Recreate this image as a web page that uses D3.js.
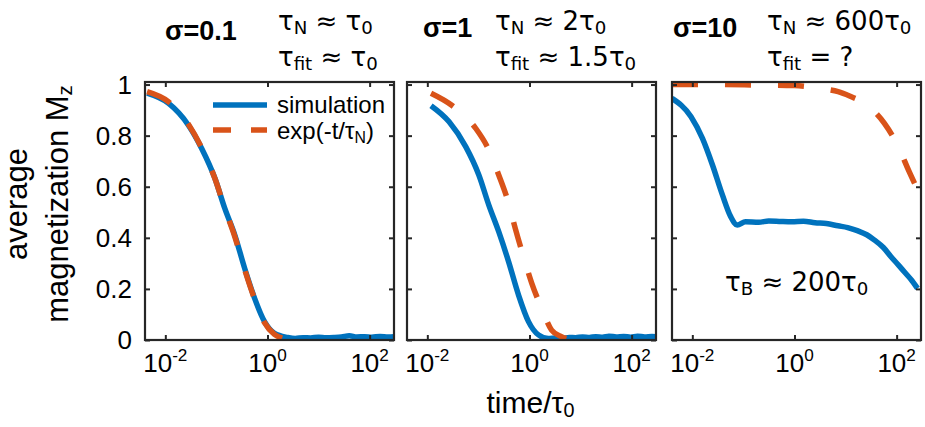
<!DOCTYPE html>
<html>
<head>
<meta charset="utf-8">
<script src="https://cdn.jsdelivr.net/npm/d3@7"></script>
<style>
  body { margin: 0; background: #fff; }
  text { font-family: "Liberation Sans", Arial, sans-serif; fill: #000; }
  text.note { font-family: "DejaVu Sans", sans-serif; }
</style>
</head>
<body>
<div id="chart"></div>
<script>
// ---- data (time in units of tau0, average Mz) ----
const xTickExp = [-2, 0, 2];
const yTicks = [0, 0.2, 0.4, 0.6, 0.8, 1];
const yTickLabels = ["0", "0.2", "0.4", "0.6", "0.8", "1"];

// sigma = 0.1
const sim1T = [0.0044, 0.0116, 0.0283, 0.0515, 0.0935, 0.146, 0.229, 0.357, 0.56, 0.875, 1.37, 2.48,
  3.5, 5, 7, 10, 14, 20, 28, 40, 56, 80, 110, 160, 230, 300];
const sim1M = [0.966, 0.926, 0.841, 0.75, 0.633, 0.515, 0.411, 0.281, 0.163, 0.072, 0.026, 0.01,
  0.006, 0.009, 0.008, 0.011, 0.009, 0.01, 0.012, 0.017, 0.012, 0.013, 0.011, 0.014, 0.012, 0.013];
const fit1T = [0.0044, 0.0116, 0.0283, 0.0515, 0.0935, 0.146, 0.229, 0.357, 0.56, 0.875, 1.37, 2.0, 2.67];
const fit1M = [0.972, 0.932, 0.845, 0.752, 0.632, 0.515, 0.405, 0.276, 0.16, 0.068, 0.022, 0.006, 0.0];

// sigma = 1
const sim2T = [0.0118, 0.0267, 0.0564, 0.102, 0.16, 0.25, 0.391, 0.611, 0.957, 1.5, 2.34,
  3.3, 4.5, 6, 8, 11, 15, 20, 27, 36, 50, 70, 95, 130, 180, 250, 300];
const sim2M = [0.917, 0.854, 0.757, 0.646, 0.528, 0.424, 0.306, 0.176, 0.072, 0.02, 0.006,
  0.008, 0.006, 0.01, 0.009, 0.012, 0.01, 0.013, 0.011, 0.015, 0.012, 0.014, 0.011, 0.015, 0.012, 0.014, 0.013];
const fit2T = [0.0118, 0.031, 0.0883, 0.16, 0.25, 0.391, 0.527, 0.764, 1.11, 1.73, 2.71, 4.24, 7.14];
const fit2M = [0.966, 0.917, 0.829, 0.744, 0.646, 0.535, 0.437, 0.326, 0.222, 0.124, 0.039, 0.013, 0.0];

// sigma = 10
const sim3T = [0.004, 0.00944, 0.0158, 0.0248, 0.0388, 0.0564, 0.0759, 0.11, 0.2, 0.313, 0.55, 0.887,
  1.5, 2.52, 4.2, 7.14, 11, 17.5, 26, 36.9, 55, 77.6, 110, 141, 200, 256];
const sim3M = [0.946, 0.874, 0.789, 0.685, 0.568, 0.483, 0.45, 0.463, 0.461, 0.466, 0.464, 0.463,
  0.465, 0.459, 0.456, 0.447, 0.44, 0.427, 0.412, 0.391, 0.362, 0.326, 0.292, 0.267, 0.232, 0.202];
const fit3T = [0.004, 0.03, 0.2, 1.0, 2.0, 4.0, 7.14, 12, 23.6, 57.7, 104, 176, 300];
const fit3M = [1.0, 1.0, 0.998, 0.996, 0.991, 0.982, 0.972, 0.955, 0.926, 0.848, 0.763, 0.659, 0.56];

const blue = "#0072BD", orange = "#D95319", frame = "#262626";

const panels = [
  { left: 145, sim: [sim1T, sim1M], fit: [fit1T, fit1M],
    title: "σ=0.1", tx: 165, ty: 40, ax: 278,
    line1: [["τ"], ["N", "sub"], [" ≈ τ"], ["0", "sub"]],
    line2: [["τ"], ["fit", "sub"], [" ≈ τ"], ["0", "sub"]] },
  { left: 407, sim: [sim2T, sim2M], fit: [fit2T, fit2M],
    title: "σ=1", tx: 423, ty: 37, ax: 495,
    line1: [["τ"], ["N", "sub"], [" ≈ 2τ"], ["0", "sub"]],
    line2: [["τ"], ["fit", "sub"], [" ≈ 1.5τ"], ["0", "sub"]] },
  { left: 672, sim: [sim3T, sim3M], fit: [fit3T, fit3M],
    title: "σ=10", tx: 673, ty: 37, ax: 767,
    line1: [["τ"], ["N", "sub"], [" ≈ 600τ"], ["0", "sub"]],
    line2: [["τ"], ["fit", "sub"], [" = ?"]] }
];

const W = 925, H = 427;
const pw = 249, plotTop = 82, plotBottom = 340;

const svg = d3.select("#chart").append("svg")
  .attr("width", W).attr("height", H);

// text with sub/superscripts
function richText(sel, parts, size, ratio = 0.66) {
  parts.forEach(p => {
    const kind = p[1] || "n";
    const t = sel.append("tspan").text(p[0]);
    if (kind === "sub") t.attr("dy", 4).attr("font-size", size * ratio);
    else if (kind === "sup") t.attr("dy", -11).attr("font-size", size * ratio);
    else t.attr("dy", sel.attr("data-dy") || 0).attr("font-size", size);
    sel.attr("data-dy", kind === "sub" ? -4 : kind === "sup" ? 11 : 0);
  });
}

const y = d3.scaleLinear().domain([0, 1.01]).range([plotBottom, plotTop]);

panels.forEach((p, i) => {
  const x = d3.scaleLog().domain([0.004, 300]).range([p.left, p.left + pw]);
  const g = svg.append("g");

  g.append("clipPath").attr("id", "clip" + i)
    .append("rect").attr("x", p.left).attr("y", plotTop)
    .attr("width", pw).attr("height", plotBottom - plotTop);

  const line = d3.line().x(d => x(d[0])).y(d => y(d[1])).curve(d3.curveMonotoneX);
  const simData = p.sim[0].map((t, k) => [t, p.sim[1][k]]);
  const fitData = p.fit[0].map((t, k) => [t, p.fit[1][k]]);

  g.append("path").datum(simData)
    .attr("clip-path", `url(#clip${i})`)
    .attr("d", line).attr("fill", "none")
    .attr("stroke", blue).attr("stroke-width", 5.5)
    .attr("stroke-linejoin", "round");

  g.append("path").datum(fitData)
    .attr("clip-path", `url(#clip${i})`)
    .attr("d", line).attr("fill", "none")
    .attr("stroke", orange).attr("stroke-width", 5.5)
    .attr("stroke-dasharray", "26,27");

  // ticks, inside on all sides
  const xAxisB = d3.axisBottom(x).tickValues(xTickExp.map(e => Math.pow(10, e)))
    .tickSizeInner(-5).tickSizeOuter(0).tickFormat("");
  const xAxisT = d3.axisTop(x).tickValues(xTickExp.map(e => Math.pow(10, e)))
    .tickSizeInner(-5).tickSizeOuter(0).tickFormat("");
  const yAxisL = d3.axisLeft(y).tickValues(yTicks).tickSizeInner(-5).tickSizeOuter(0).tickFormat("");
  const yAxisR = d3.axisRight(y).tickValues(yTicks).tickSizeInner(-5).tickSizeOuter(0).tickFormat("");

  [[xAxisB, `translate(0,${plotBottom})`], [xAxisT, `translate(0,${plotTop})`],
   [yAxisL, `translate(${p.left},0)`], [yAxisR, `translate(${p.left + pw},0)`]].forEach(a => {
    const ax = g.append("g").attr("transform", a[1]).call(a[0]);
    ax.select(".domain").remove();
    ax.selectAll("line").attr("stroke", frame).attr("stroke-width", 2);
  });

  g.append("rect").attr("x", p.left).attr("y", plotTop)
    .attr("width", pw).attr("height", plotBottom - plotTop)
    .attr("fill", "none").attr("stroke", frame).attr("stroke-width", 2.2);

  // x tick labels 10^n
  xTickExp.forEach(e => {
    const t = g.append("text").attr("x", x(Math.pow(10, e))).attr("y", 372)
      .attr("text-anchor", "middle");
    richText(t, [["10"], [String(e), "sup"]], 26);
  });

  // titles
  g.append("text").attr("x", p.tx).attr("y", p.ty)
    .attr("font-weight", "bold").attr("font-size", 27).text(p.title);
  richText(g.append("text").attr("class", "note").attr("x", p.ax).attr("y", 30), p.line1, 26, 0.7);
  richText(g.append("text").attr("class", "note").attr("x", p.ax).attr("y", 66), p.line2, 26, 0.7);

  if (i === 0) {
    yTicks.forEach((v, k) => {
      g.append("text").attr("x", 132).attr("y", y(v) + 9)
        .attr("text-anchor", "end").attr("font-size", 26).text(yTickLabels[k]);
    });
    // legend
    g.append("line").attr("x1", 213).attr("x2", 267).attr("y1", 105).attr("y2", 105)
      .attr("stroke", blue).attr("stroke-width", 5.5);
    g.append("line").attr("x1", 213).attr("x2", 267).attr("y1", 130).attr("y2", 130)
      .attr("stroke", orange).attr("stroke-width", 5.5).attr("stroke-dasharray", "18,20");
    richText(g.append("text").attr("x", 277).attr("y", 113), [["simulation"]], 24);
    richText(g.append("text").attr("x", 277).attr("y", 139),
      [["exp(-t/τ"], ["N", "sub"], [")"]], 24);
  }
  if (i === 1) {
    richText(g.append("text").attr("x", x(1) + 1).attr("y", 413).attr("text-anchor", "middle"),
      [["time/τ"], ["0", "sub"]], 30);
  }
  if (i === 2) {
    richText(g.append("text").attr("class", "note").attr("x", 725).attr("y", 291),
      [["τ"], ["B", "sub"], [" ≈ 200τ"], ["0", "sub"]], 26, 0.7);
  }
});

// y label
const yl = svg.append("text").attr("transform", "translate(27,204) rotate(-90)")
  .attr("text-anchor", "middle").attr("font-size", 31);
yl.append("tspan").attr("x", 0).attr("y", 0).text("average");
const yl2 = svg.append("text").attr("transform", "translate(68,204) rotate(-90)")
  .attr("text-anchor", "middle");
richText(yl2, [["magnetization M"], ["z", "sub"]], 31);
</script>
</body>
</html>
